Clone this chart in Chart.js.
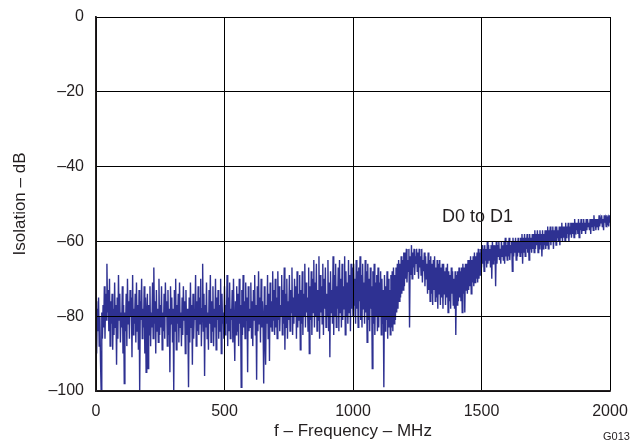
<!DOCTYPE html>
<html>
<head>
<meta charset="utf-8">
<script src="https://cdn.jsdelivr.net/npm/chart.js@4.4.1/dist/chart.umd.min.js"></script>
<style>
  html, body { margin: 0; padding: 0; background: #fff; }
  #wrap { width: 633px; height: 444px; }
</style>
</head>
<body>
<div id="wrap"><canvas id="isolation-chart" width="633" height="444"></canvas></div>
<script>
// sweep is sampled every 2.5 MHz from 0 to 2000 MHz
const freqStartMHz = 0;
const freqStepMHz = 2.5;

// isolation D0 to D1 (dB), 0 - 497.5 MHz
const isolation0to500 = [
  -76, -90, -78, -84, -75, -88, -80, -92, -100, -79, -86, -77, -83, -72, -86, -74, -81, -66, -79, -73,
  -84, -70, -88, -76, -82, -74, -89, -78, -85, -71, -83, -77, -93, -75, -86, -69, -81, -74, -87, -79,
  -83, -72, -90, -77, -98, -79, -84, -74, -88, -70, -82, -76, -86, -73, -80, -75, -91, -69, -85, -78,
  -82, -74, -87, -71, -84, -77, -89, -73, -100, -76, -81, -70, -86, -78, -83, -72, -90, -75, -95, -79,
  -74, -94, -77, -85, -72, -88, -79, -83, -71, -86, -67, -82, -76, -90, -73, -84, -78, -87, -70, -85,
  -77, -83, -72, -89, -79, -84, -74, -86, -71, -80, -76, -88, -73, -85, -78, -95, -72, -82, -75, -87,
  -78, -100, -73, -84, -70, -89, -77, -82, -74, -87, -71, -83, -79, -88, -75, -85, -72, -81, -76, -90,
  -73, -85, -78, -82, -99, -75, -87, -71, -83, -77, -93, -74, -86, -79, -81, -69, -88, -76, -84, -72,
  -85, -75, -82, -70, -88, -78, -66, -84, -74, -96, -77, -83, -71, -86, -79, -89, -73, -82, -69, -87,
  -76, -84, -72, -88, -78, -83, -70, -89, -75, -81, -73, -86, -77, -84, -70, -90, -74, -82, -79, -86
];

// 500 - 997.5 MHz
const isolation500to1000 = [
  -72, -85, -77, -82, -69, -88, -75, -84, -71, -86, -78, -81, -73, -87, -70, -83, -92, -76, -85, -72,
  -84, -74, -88, -70, -82, -77, -99, -73, -85, -69, -83, -76, -86, -71, -81, -75, -95, -72, -84, -78,
  -83, -71, -86, -76, -88, -73, -81, -69, -85, -77, -97, -72, -84, -68, -82, -75, -87, -70, -83, -76,
  -81, -98, -72, -85, -93, -77, -82, -69, -86, -74, -92, -71, -83, -76, -84, -68, -81, -73, -85, -70,
  -83, -75, -86, -68, -81, -72, -84, -77, -80, -69, -85, -73, -82, -67, -89, -74, -83, -70, -86, -76,
  -81, -69, -84, -73, -79, -67, -85, -75, -82, -70, -80, -72, -86, -68, -83, -74, -81, -69, -89, -73,
  -82, -68, -85, -74, -80, -66, -83, -71, -79, -75, -84, -67, -90, -72, -81, -68, -85, -70, -79, -65,
  -83, -71, -80, -66, -84, -73, -81, -64, -86, -69, -79, -72, -82, -66, -85, -70, -78, -67, -83, -74,
  -80, -65, -84, -71, -91, -68, -79, -73, -82, -64, -85, -69, -80, -66, -83, -72, -78, -67, -84, -65,
  -79, -70, -83, -66, -81, -72, -78, -64, -85, -68, -80, -71, -82, -65, -79, -69, -84, -66, -78, -67
];

// 1000 - 1497.5 MHz
const isolation1000to1500 = [
  -80, -66, -77, -70, -82, -65, -78, -68, -83, -67, -76, -64, -81, -69, -83, -66, -78, -71, -82, -65,
  -79, -68, -87, -66, -81, -70, -84, -67, -78, -72, -94, -68, -82, -66, -85, -71, -80, -69, -84, -67,
  -83, -71, -80, -68, -85, -70, -82, -73, -99, -69, -84, -72, -81, -68, -86, -70, -83, -73, -85, -69,
  -83, -68, -84, -67, -82, -69, -81, -67, -79, -66, -78, -65, -76, -66, -75, -64, -74, -65, -73, -63,
  -72, -63, -70, -62, -71, -65, -68, -62, -83, -64, -69, -61, -70, -63, -67, -62, -69, -64, -66, -62,
  -68, -63, -70, -62, -67, -64, -69, -62, -71, -65, -68, -63, -72, -64, -70, -66, -74, -63, -73, -65,
  -76, -64, -74, -66, -77, -65, -73, -64, -76, -67, -75, -65, -78, -66, -74, -65, -77, -67, -75, -66,
  -78, -66, -74, -68, -77, -67, -75, -66, -79, -68, -76, -69, -78, -67, -74, -68, -77, -70, -78, -68,
  -85, -69, -77, -68, -76, -67, -75, -68, -76, -67, -79, -66, -74, -67, -79, -66, -73, -66, -74, -65,
  -73, -65, -72, -64, -74, -65, -71, -64, -72, -63, -71, -64, -70, -63, -71, -62, -70, -63, -69, -62
];

// 1500 - 2000 MHz
const isolation1500to2000 = [
  -67, -61, -66, -62, -68, -61, -65, -62, -67, -60, -66, -61, -65, -62, -67, -61, -70, -60, -66, -61,
  -65, -61, -72, -60, -66, -61, -64, -60, -65, -62, -66, -60, -64, -61, -65, -60, -66, -59, -64, -61,
  -65, -60, -64, -59, -65, -61, -63, -60, -68, -59, -64, -60, -63, -59, -65, -60, -64, -59, -63, -60,
  -64, -59, -63, -58, -66, -59, -63, -58, -64, -59, -62, -58, -63, -59, -65, -58, -62, -59, -63, -58,
  -62, -58, -63, -57, -62, -58, -61, -57, -63, -58, -62, -57, -61, -58, -64, -57, -62, -58, -61, -57,
  -62, -57, -61, -56, -62, -57, -60, -56, -61, -57, -60, -56, -62, -57, -60, -56, -61, -56, -59, -57,
  -60, -56, -61, -56, -59, -55, -60, -56, -59, -56, -60, -55, -59, -56, -58, -55, -60, -56, -58, -55,
  -59, -55, -58, -55, -59, -54, -58, -55, -57, -55, -58, -54, -59, -55, -57, -54, -58, -55, -57, -54,
  -57, -55, -58, -54, -57, -54, -56, -55, -57, -54, -58, -54, -56, -54, -57, -53, -56, -54, -57, -54,
  -56, -54, -57, -53, -56, -54, -55, -53, -56, -54, -57, -53, -55, -54, -56, -53, -55, -54, -56, -53,
  -55
];

const xTicks = [0, 500, 1000, 1500, 2000];
const yTicks = [0, -20, -40, -60, -80, -100];

const isolation = isolation0to500.concat(isolation500to1000, isolation1000to1500, isolation1500to2000);
const points = isolation.map(function(v, i) {
  return { x: freqStartMHz + i * freqStepMHz, y: v };
});

const textColor = "#231F20";
const fontFamily = "'Liberation Sans', Arial, Helvetica, sans-serif";

function dash(v) {
  return v < 0 ? "\u2013" + Math.abs(v) : String(v);
}

// the original draws its grid over the trace, so draw it again afterwards
const gridOnTop = {
  id: "gridOnTop",
  afterDatasetsDraw(chart) {
    const area = chart.chartArea;
    chart.scales.x.drawGrid(area);
    chart.scales.y.drawGrid(area);
    chart.scales.x.drawBorder();
    chart.scales.y.drawBorder();
  },
  afterDraw(chart) {
    const ctx = chart.ctx;
    const x = chart.scales.x, y = chart.scales.y;
    ctx.save();
    ctx.fillStyle = textColor;
    ctx.textAlign = "left";
    ctx.textBaseline = "middle";
    ctx.font = "18px " + fontFamily;
    ctx.fillText("D0 to D1", x.getPixelForValue(1346), y.getPixelForValue(-53.5));
    ctx.font = "11px " + fontFamily;
    ctx.fillText("G013", 603, 437);
    ctx.restore();
  }
};

new Chart(document.getElementById("isolation-chart"), {
  type: "line",
  data: {
    datasets: [{
      label: "D0 to D1",
      data: points,
      borderColor: "#2E3192",
      borderWidth: 1.4,
      pointRadius: 0,
      tension: 0,
      fill: false
    }]
  },
  options: {
    responsive: false,
    animation: false,
    devicePixelRatio: 1,
    parsing: false,
    layout: { padding: { left: 0, right: 23, top: 17, bottom: 0 } },
    plugins: {
      legend: { display: false },
      tooltip: { enabled: false }
    },
    scales: {
      x: {
        type: "linear",
        min: 0,
        max: 2000,
        afterFit: function(scale) {
          scale.height = 53;
          scale.paddingLeft = 0;
          scale.paddingRight = 0;
        },
        afterBuildTicks: function(scale) { scale.ticks = xTicks.map(function(v) { return { value: v }; }); },
        ticks: {
          color: textColor,
          font: { family: fontFamily, size: 16 },
          padding: 11,
          maxRotation: 0,
          callback: dash
        },
        grid: { color: "#000", lineWidth: 1, drawTicks: false },
        border: { color: textColor, width: 1.5 },
        title: {
          display: true,
          text: "f \u2013 Frequency \u2013 MHz",
          color: textColor,
          font: { family: fontFamily, size: 17 },
          padding: { top: 0, bottom: 2 }
        }
      },
      y: {
        min: -100,
        max: 0,
        afterFit: function(scale) {
          scale.width = 96;
          scale.paddingTop = 0;
          scale.paddingBottom = 0;
        },
        afterBuildTicks: function(scale) { scale.ticks = yTicks.map(function(v) { return { value: v }; }); },
        ticks: {
          color: textColor,
          font: { family: fontFamily, size: 16 },
          padding: 12,
          callback: dash
        },
        grid: { color: "#000", lineWidth: 1, drawTicks: false },
        border: { color: textColor, width: 1.5 },
        title: {
          display: true,
          text: "Isolation \u2013 dB",
          color: textColor,
          font: { family: fontFamily, size: 17 },
          padding: { top: 10, bottom: 0 }
        }
      }
    }
  },
  plugins: [gridOnTop]
});
</script>
</body>
</html>
